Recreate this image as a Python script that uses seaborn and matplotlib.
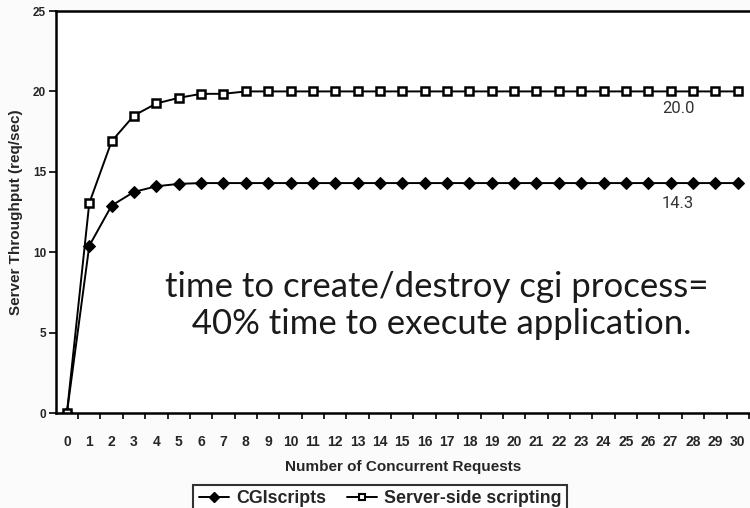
import matplotlib
matplotlib.use('Agg')
import matplotlib.pyplot as plt
import seaborn as sns
import pandas as pd
from matplotlib.ticker import FixedLocator

requests = list(range(31))
cgi = [0, 10.4, 12.9, 13.75, 14.1, 14.25] + [14.3] * 25
server = [0, 13.05, 16.9, 18.5, 19.25, 19.6, 19.85, 19.85] + [20.0] * 23
series_names = ['CGIscripts', 'Server-side scripting']

df = pd.DataFrame({
    'Requests': requests * 2,
    'Throughput': cgi + server,
    'Series': [series_names[0]] * 31 + [series_names[1]] * 31,
})

sns.set_style('white')
plt.rcParams['font.family'] = ['Liberation Sans', 'DejaVu Sans']

fig = plt.figure(figsize=(7.5, 5.08), dpi=100, facecolor='#fbfbfb')
ax = fig.add_axes([0.0743, 0.187, 0.9257, 0.7913])
ax.set_facecolor('white')

sns.lineplot(data=df, x='Requests', y='Throughput', hue='Series', style='Series',
             palette=['black', 'black'], markers={'CGIscripts': 'D', 'Server-side scripting': 's'},
             dashes=False, linewidth=1.4, markersize=6, ax=ax, legend=False)

# filled diamond vs. open square
lines = ax.get_lines()
lines[0].set_markerfacecolor('black')
lines[0].set_markeredgecolor('black')
lines[0].set_markersize(6.5)
lines[1].set_markerfacecolor('white')
lines[1].set_markeredgecolor('black')
lines[1].set_markeredgewidth(1.8)
lines[1].set_markersize(5.5)

ax.set_xlim(-0.5, 30.55)
ax.set_ylim(0, 25)
ax.set_yticks([0, 5, 10, 15, 20, 25])
ax.set_xticks(requests)
ax.xaxis.set_minor_locator(FixedLocator([r + 0.5 for r in requests]))
ax.tick_params(axis='x', which='major', length=0, pad=16, labelsize=10)
ax.tick_params(axis='x', which='minor', length=4, width=1.2, color='black', direction='out', bottom=True)
ax.tick_params(axis='y', which='major', length=5, width=1.2, color='black', direction='out', left=True, labelsize=8.5, pad=2)
for lab in ax.get_xticklabels() + ax.get_yticklabels():
    lab.set_fontweight('bold')

for side in ['left', 'bottom', 'top']:
    ax.spines[side].set_color('black')
    ax.spines[side].set_linewidth(1.8)
ax.spines['right'].set_visible(False)

ax.set_xlabel('Number of Concurrent Requests', fontsize=11, fontweight='bold', labelpad=8)
ax.set_ylabel('Server Throughput (req/sec)', fontsize=11, fontweight='bold', labelpad=7)

ax.text(27.35, 20.0 - 1.06, '20.0', fontsize=12, family=['Roboto', 'DejaVu Sans'], color='#333333', ha='center', va='center')
ax.text(27.3, 14.3 - 1.25, '14.3', fontsize=12, family=['Roboto', 'DejaVu Sans'], color='#333333', ha='center', va='center')

ax.text(16.55, 6.7, 'time to create/destroy cgi process=\n 40% time to execute application.',
        fontsize=25, family=['Lato', 'DejaVu Sans'], fontweight='normal', color='#1a1a1a',
        ha='center', va='center', multialignment='center', linespacing=1.2)

handles = [plt.Line2D([], [], color='black', marker='D', markersize=5, linewidth=1.4),
           plt.Line2D([], [], color='black', marker='s', markersize=5, markerfacecolor='white',
                      markeredgewidth=1.5, linewidth=1.4)]
leg = fig.legend(handles, series_names, loc='upper center', bbox_to_anchor=(0.507, 0.063),
                 ncol=2, frameon=True, fancybox=False, edgecolor='black', handlelength=1.7,
                 handletextpad=0.4, columnspacing=1.2, borderpad=0.3,
                 prop={'weight': 'bold', 'size': 12.8})
leg.get_frame().set_linewidth(1.5)

fig.savefig('out.png', dpi=100, facecolor=fig.get_facecolor())
